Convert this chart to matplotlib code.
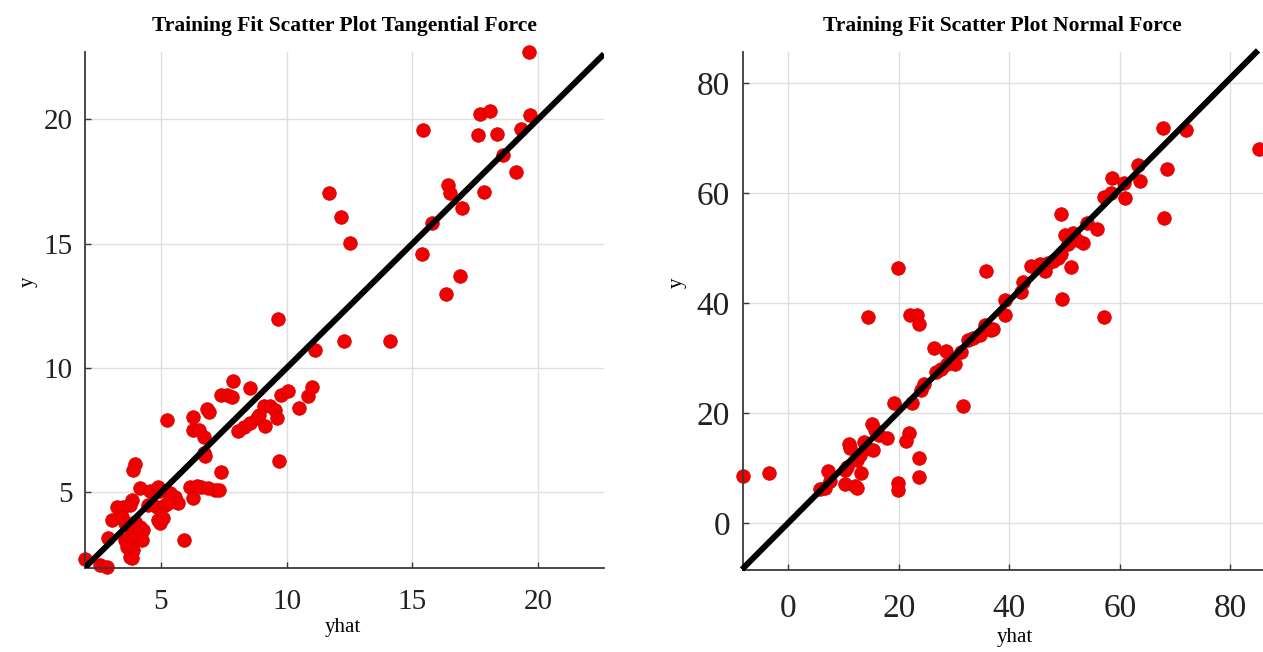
import matplotlib
matplotlib.use("Agg")
import matplotlib.pyplot as plt

# Tangential force: model prediction (yhat) vs measured value (y)
tan_yhat = [19.62, 17.68, 18.07, 19.69, 15.42, 17.60, 18.35, 19.32, 18.61, 19.13,
            11.68, 16.40, 16.51, 17.86, 12.15, 16.96, 12.52, 15.77, 15.38, 16.90,
            16.34, 9.67, 11.13, 12.27, 14.12,
            7.86, 7.39, 7.61, 7.81, 8.54, 6.82, 6.92, 6.26, 5.25, 6.26,
            6.53, 6.72, 6.72, 6.76, 8.08, 8.30, 8.54, 8.81, 8.91, 9.10,
            9.34, 9.54, 9.14, 9.60, 9.77, 10.07, 10.49, 10.86, 10.99, 9.69, 7.39,
            3.97, 3.90, 4.17, 4.56, 4.89, 4.96, 5.36, 5.56, 5.69, 6.15,
            6.42, 6.61, 6.88, 7.14, 7.31, 6.28, 3.24, 3.50, 3.84, 3.77,
            4.50, 4.83, 5.16, 5.29, 3.04, 4.89, 4.96, 5.09, 5.91, 2.91,
            3.44, 3.57, 3.77, 3.97, 4.17, 4.30, 4.03, 3.77, 3.57, 3.90,
            4.23, 3.64, 3.90, 3.77, 3.84, 1.98, 2.58, 2.84]
tan_y = [22.71, 20.20, 20.32, 20.16, 19.56, 19.38, 19.40, 19.62, 18.58, 17.86,
         17.05, 17.35, 17.04, 17.09, 16.05, 16.41, 15.04, 15.83, 14.58, 13.69,
         12.96, 11.98, 10.71, 11.09, 11.09,
         9.46, 8.93, 8.93, 8.83, 9.20, 8.35, 8.23, 8.03, 7.90, 7.52,
         7.49, 7.23, 6.58, 6.47, 7.45, 7.63, 7.79, 7.98, 8.12, 8.49,
         8.49, 8.32, 7.65, 7.99, 8.90, 9.09, 8.39, 8.86, 9.24, 6.25, 5.80,
         6.16, 5.90, 5.16, 5.07, 5.23, 5.07, 4.96, 4.83, 4.56, 5.23,
         5.25, 5.23, 5.16, 5.09, 5.09, 4.76, 4.42, 4.42, 4.69, 4.49,
         4.49, 4.42, 4.49, 4.56, 3.89, 3.89, 3.76, 3.96, 3.09, 3.15,
         4.02, 3.76, 3.62, 3.82, 3.62, 3.49, 3.35, 3.22, 3.09, 3.09,
         3.09, 2.82, 2.68, 2.42, 2.35, 2.31, 2.08, 2.01]

# Normal force: model prediction (yhat) vs measured value (y)
nor_yhat = [-8.3, -3.5, 85.2,
            5.8, 6.7, 7.5, 7.2, 10.3, 10.6, 10.3, 12.1, 12.4, 13.2, 12.4,
            13.0, 10.9, 11.2, 13.6, 14.2, 15.4, 15.2, 15.6, 16.4, 17.8,
            21.8, 21.2, 23.6, 23.6, 19.9, 19.9, 19.2, 22.3, 24.0, 24.6, 31.6,
            19.9, 14.5, 22.1, 23.35, 23.7, 26.4, 28.6, 26.7, 27.6, 28.8,
            30.1, 31.3, 32.5, 33.4, 34.6, 35.5, 37.1, 39.2, 39.2, 35.7,
            42.4, 42.1, 36.7,
            43.95, 45.5, 47.0, 47.9, 48.8, 49.4, 46.4, 49.5, 51.2, 49.4,
            50.0, 51.55, 53.4, 52.2, 50.6, 54.0, 55.8, 57.2, 57.1, 58.4,
            58.5, 60.7, 61.0, 63.3, 63.7, 68.45, 68.0, 67.84, 71.9]
nor_y = [8.6, 9.1, 68.0,
         6.3, 6.4, 7.7, 9.5, 9.7, 10.3, 7.1, 6.7, 6.5, 9.1, 11.5,
         12.4, 14.5, 13.75, 14.8, 13.6, 13.3, 18.0, 16.9, 16.1, 15.5,
         16.5, 14.9, 11.9, 8.5, 7.3, 6.0, 21.9, 21.9, 24.2, 25.4, 21.4,
         46.5, 37.5, 37.8, 37.9, 36.2, 31.8, 31.4, 27.5, 28.1, 28.9,
         29.0, 31.1, 33.3, 33.6, 34.2, 36.0, 35.4, 37.8, 40.6, 45.9,
         43.8, 42.0, 35.1,
         46.8, 47.1, 47.4, 47.7, 48.3, 48.9, 45.9, 40.7, 46.6, 56.3,
         52.5, 52.8, 51.0, 51.6, 50.7, 54.6, 53.5, 37.5, 59.4, 60.0,
         62.7, 61.8, 59.1, 65.1, 62.3, 64.5, 55.5, 71.8, 71.6]

tan_ticks = [5, 10, 15, 20]
nor_ticks = [0, 20, 40, 60, 80]

plt.rcParams['font.family'] = ['Liberation Serif', 'DejaVu Serif']

W, H = 1263, 652
fig = plt.figure(figsize=(W / 100, H / 100), dpi=100)


def box(l, t, r, b):
    return [l / W, 1 - b / H, (r - l) / W, (b - t) / H]


ax1 = fig.add_axes(box(85, 52, 604, 568))
ax2 = fig.add_axes(box(742.5, 52, 1263, 570))

SPINE = '#3a3a3a'
DOT_FACE = '#f20000'
DOT_EDGE = '#d40000'


def style(ax, xlim, ylim, ticks, fs, xpad, ypad):
    ax.set_xlim(xlim)
    ax.set_ylim(ylim)
    ax.set_xticks(ticks)
    ax.set_yticks(ticks)
    ax.grid(True, color='#dedede', lw=1.0)
    ax.set_axisbelow(True)
    for s in ('top', 'right'):
        ax.spines[s].set_visible(False)
    for s in ('left', 'bottom'):
        ax.spines[s].set_color(SPINE)
        ax.spines[s].set_linewidth(1.3)
    ax.tick_params(direction='in', length=4, width=1, color=SPINE,
                   labelsize=fs, labelcolor='#222222')
    ax.tick_params(axis='x', pad=xpad)
    ax.tick_params(axis='y', pad=ypad)


# Tangential force panel
style(ax1, (1.98, 22.62), (1.96, 22.7), tan_ticks, 21, 15, 9)
ax1.scatter(tan_yhat, tan_y, s=95, c=DOT_FACE, edgecolors=DOT_EDGE,
            linewidths=0.6, zorder=2, clip_on=False)
ax1.plot([1.98, 22.62], [1.98, 22.62], color='black', lw=4.3,
         solid_capstyle='butt', zorder=3)
ax1.set_title('Training Fit Scatter Plot Tangential Force', fontsize=15.5,
              fontweight='bold', pad=15)
ax1.set_xlabel('yhat', fontsize=15, va='center')
ax1.xaxis.set_label_coords(0.497, -0.116)
ax1.set_ylabel('y', fontsize=15, va='center', ha='center')
ax1.yaxis.set_label_coords(-0.11, 0.554)

# Normal force panel
style(ax2, (-8.3, 85.9), (-8.5, 85.7), nor_ticks, 24, 17, 9)
ax2.scatter(nor_yhat, nor_y, s=95, c=DOT_FACE, edgecolors=DOT_EDGE,
            linewidths=0.6, zorder=2, clip_on=False)
ax2.plot([-8.4, 85.0], [-8.4, 86.0], color='black', lw=4.3,
         solid_capstyle='butt', zorder=3, clip_on=False)
ax2.set_title('Training Fit Scatter Plot Normal Force', fontsize=15.5,
              fontweight='bold', pad=15)
ax2.set_xlabel('yhat', fontsize=15, va='center')
ax2.xaxis.set_label_coords(0.5235, -0.131)
ax2.set_ylabel('y', fontsize=15, va='center', ha='center')
ax2.yaxis.set_label_coords(-0.126, 0.554)

fig.savefig('out.png', dpi=100, facecolor='white')
